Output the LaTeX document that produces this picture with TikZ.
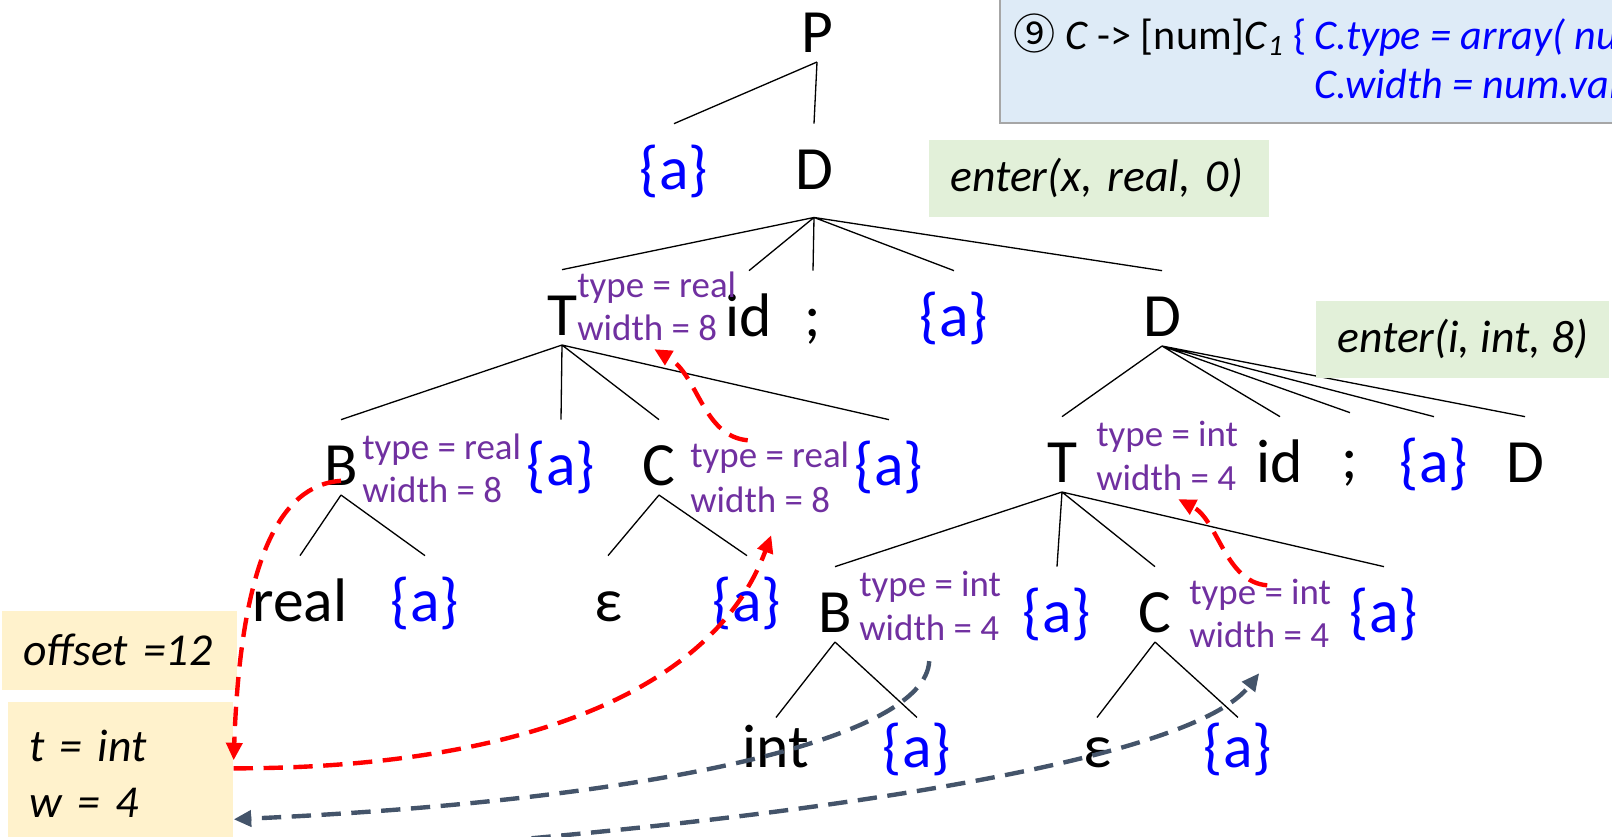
\documentclass[tikz,border=0pt]{standalone}
\usepackage{fontspec}
\setmainfont{Carlito}
\newfontfamily\circfont{Noto Sans CJK SC}
\usepackage{tikz}
\usetikzlibrary{arrows.meta}
\definecolor{actblue}{HTML}{0000FF}
\definecolor{attrpurple}{HTML}{7030A0}
\definecolor{flowred}{HTML}{FF0000}
\definecolor{flowgray}{HTML}{44546A}
\definecolor{notegreen}{HTML}{E2F0D9}
\definecolor{memoyellow}{HTML}{FFF2CC}
\definecolor{ruleblue}{HTML}{DEEBF7}
\definecolor{rulegray}{HTML}{A6A6A6}

\begin{document}
\begin{tikzpicture}[x=0.02cm,y=-0.02cm,>={Triangle[length=10pt,width=9pt]},
sym/.style={font=\fontsize{35}{42}\selectfont,inner sep=0pt,text height=37pt,text depth=5.5pt,anchor=base},
act/.style={sym,text=actblue},
attr/.style={font=\fontsize{21}{25}\selectfont,text=attrpurple,inner sep=0pt,text height=15pt,text depth=5pt,anchor=base west},
branch/.style={line width=0.75pt},
note/.style={fill=notegreen,inner xsep=0.42cm,inner ysep=0pt,minimum height=1.54cm,font=\fontsize{26}{32}\selectfont\itshape,anchor=west,align=left},
memo/.style={fill=memoyellow,inner xsep=0.42cm,inner ysep=0pt,font=\fontsize{26}{32}\selectfont\itshape,align=left},
redflow/.style={->,draw=flowred,line width=2.5pt,dash pattern=on 11pt off 6pt},
grayflow/.style={->,draw=flowgray,line width=2.5pt,dash pattern=on 11pt off 6pt},
rulebox/.style={fill=ruleblue,draw=rulegray,line width=0.8pt},
ruletext/.style={font=\fontsize{24}{28}\selectfont,inner sep=0pt,anchor=base west}]
\useasboundingbox (0,0) rectangle (1612,836);
\clip (0,0) rectangle (1612,836);
\draw[rulebox] (1000,-20) rectangle (1650,123);
\node[ruletext] (r9lhs) at (1013,49) {{\circfont ⑨} \textit{C} -> [num]\textit{C}\textsubscript{\textit{1}} \textcolor{actblue}{\{}};
\node[ruletext,text=actblue] (r9type) at (1314,49) {\textit{C.type = array( num}};
\node[ruletext,text=actblue] (r9width) at (1314,98) {\textit{C.width = num.val}};
\node[sym] (P) at (817,52) {P};
\node[act] (a1) at (674,189) {\{a\}};
\node[sym,text depth=16pt] (D1) at (814,189) {D};
\node[sym] (T2) at (562,335) {T};
\node[sym] (id2) at (749,336) {id};
\node[sym] (semi2) at (813,336) {;};
\node[act] (a2) at (954,336) {\{a\}};
\node[sym] (D2) at (1162,336) {D};
\node[attr] (T2type) at (577,297) {type = real};
\node[attr] (T2width) at (577,340) {width = 8};
\node[sym] (B3) at (341,485) {B};
\node[act] (a3) at (561,485) {\{a\}};
\node[sym] (C3) at (659,485) {C};
\node[act] (a4) at (889,485) {\{a\}};
\node[attr] (B3type) at (362,459) {type = real};
\node[attr] (B3width) at (362,502) {width = 8};
\node[attr] (C3type) at (690,467) {type = real};
\node[attr] (C3width) at (690,512) {width = 8};
\node[sym] (T3) at (1062,482) {T};
\node[sym] (id3) at (1280,482) {id};
\node[sym] (semi3) at (1350,478) {;};
\node[act] (a5) at (1434,482) {\{a\}};
\node[sym] (D3) at (1525,482) {D};
\node[attr] (T3type) at (1096,446) {type = int};
\node[attr] (T3width) at (1096,490) {width = 4};
\node[sym] (real4) at (300,621) {real};
\node[act] (a6) at (425,621) {\{a\}};
\node[sym] (eps4) at (608,621) {ε};
\node[act] (a7) at (747,621) {\{a\}};
\node[sym] (B4) at (835,632) {B};
\node[act] (a8) at (1057,632) {\{a\}};
\node[sym] (C4) at (1155,632) {C};
\node[act] (a9) at (1384,632) {\{a\}};
\node[attr] (B4type) at (859,596) {type = int};
\node[attr] (B4width) at (859,640) {width = 4};
\node[attr] (C4type) at (1189,604) {type = int};
\node[attr] (C4width) at (1189,647) {width = 4};
\node[sym,text height=28pt] (int5) at (776,767) {int};
\node[act,text height=28pt] (a10) at (917,767) {\{a\}};
\node[sym,text height=28pt] (eps5) at (1097,767) {ε};
\node[act,text height=28pt] (a11) at (1238,767) {\{a\}};
\draw[branch] (P.south)--(a1.north) (P.south)--(D1.north);
\draw[branch] (D1.south)--(T2.north) (D1.south)--(id2.north) (D1.south)--(semi2.north) (D1.south)--(a2.north) (D1.south)--(D2.north);
\draw[branch] (T2.south)--(B3.north) (T2.south)--(a3.north) (T2.south)--(C3.north) (T2.south)--(a4.north);
\draw[branch] (D2.south)--(T3.north) (D2.south)--(id3.north) (D2.south)--(semi3.north) (D2.south)--(a5.north) (D2.south)--(D3.north);
\draw[branch] (B3.south)--(real4.north) (B3.south)--(a6.north) (C3.south)--(eps4.north) (C3.south)--(a7.north);
\draw[branch] (T3.south)--(B4.north) (T3.south)--(a8.north) (T3.south)--(C4.north) (T3.south)--(a9.north);
\draw[branch] (B4.south)--(int5.north) (B4.south)--(a10.north) (C4.south)--(eps5.north) (C4.south)--(a11.north);
\node[note,text width=5.96cm] (enterx) at (929,178) {enter(x, real, 0)};
\node[note] (enteri) at (1316,339) {enter(i, int, 8)};
\node[memo,anchor=west,minimum height=1.58cm,text width=3.86cm] (offset) at (2,650) {offset =12};
\node[memo,anchor=north west,minimum height=2.86cm,text width=3.66cm] (twbox) at (8,702) {t = int\\w = 4};
\draw[redflow] ([xshift=-0.44cm]C3type.north) .. controls +(-45,-4) and +(44,26) .. ([xshift=0.14cm]T2width.south);
\draw[redflow] (B3.mid) .. controls +(-61,4) and +(7,-200) .. ([yshift=0.27cm]twbox.east);
\draw[redflow] ([yshift=0.11cm]twbox.east) .. controls +(267,0) and +(-61,165) .. ([xshift=0.22cm,yshift=-0.28cm]C3width.south);
\draw[redflow] ([xshift=0.14cm,yshift=-0.16cm]C4type.north) .. controls +(-42,-3) and +(40,21) .. ([xshift=0.24cm]T3width.south);
\draw[grayflow] ([yshift=-0.24cm]B4width.south) .. controls +(-4,79) and +(417,-19) .. ([yshift=-0.91cm]twbox.east);
\draw[grayflow] ([yshift=-0.3cm]twbox.south east) .. controls +(467,-28) and +(-77,99) .. ([yshift=-0.34cm]C4width.south);
\end{tikzpicture}
\end{document}
